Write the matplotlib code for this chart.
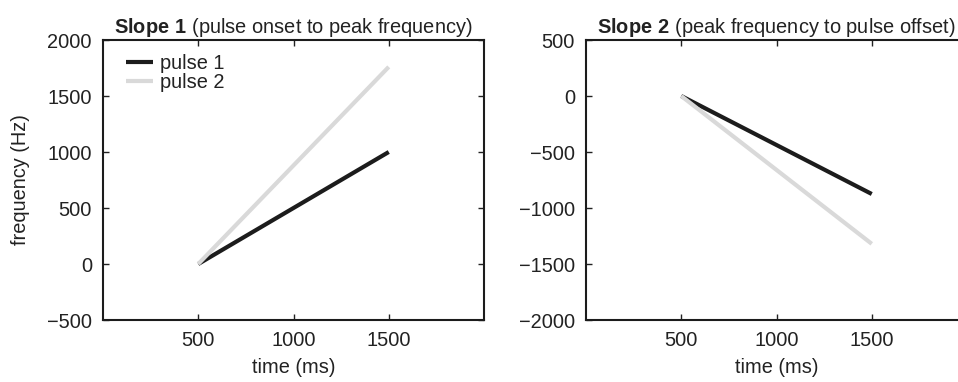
import matplotlib
matplotlib.use("Agg")
import matplotlib.pyplot as plt

plt.rcParams['font.family'] = ['Liberation Sans', 'DejaVu Sans']
plt.rcParams['mathtext.fontset'] = 'custom'
plt.rcParams['mathtext.rm'] = 'Liberation Sans'
plt.rcParams['mathtext.bf'] = 'Liberation Sans:bold'
plt.rcParams['axes.unicode_minus'] = True

# data
time = [500, 1500]
slope1_pulse1 = [0, 1000]
slope1_pulse2 = [0, 1760]
slope2_pulse1 = [0, -875]
slope2_pulse2 = [0, -1320]
xticks = [500, 1000, 1500]
yticks1 = [-500, 0, 500, 1000, 1500, 2000]
yticks2 = [-2000, -1500, -1000, -500, 0, 500]

dark = '#1c1c1c'
light = '#d9d9d9'
txt = '#222222'
fs = 14.4

fig = plt.figure(figsize=(9.58, 3.82), dpi=100)
ax1 = fig.add_axes([103/958, 62/382, 381/958, 280/382])
ax2 = fig.add_axes([586/958, 62/382, 381/958, 280/382])

ax1.plot(time, slope1_pulse1, color=dark, lw=3, label='pulse 1', solid_capstyle='butt')
ax1.plot(time, slope1_pulse2, color=light, lw=3, label='pulse 2', solid_capstyle='butt')
ax2.plot(time, slope2_pulse1, color=dark, lw=3, solid_capstyle='butt')
ax2.plot(time, slope2_pulse2, color=light, lw=3, solid_capstyle='butt')

for ax, yt in [(ax1, yticks1), (ax2, yticks2)]:
    ax.set_xlim(0, 2000)
    ax.set_ylim(yt[0], yt[-1])
    ax.set_xticks(xticks)
    ax.set_yticks(yt)
    ax.tick_params(direction='in', length=4, width=1, top=True, right=True,
                   labelsize=fs, colors=txt, pad=8)
    for s in ax.spines.values():
        s.set_linewidth(1.5)
        s.set_color(dark)
    ax.set_xlabel('time (ms)', fontsize=fs, color=txt, labelpad=6)

ax1.set_ylabel('frequency (Hz)', fontsize=fs, color=txt, labelpad=12)
ax1.set_title(r'$\bf{Slope\ 1}$ (pulse onset to peak frequency)', fontsize=fs, color=txt, pad=5)
ax2.set_title(r'$\bf{Slope\ 2}$ (peak frequency to pulse offset)', fontsize=fs, color=txt, pad=5)

leg = ax1.legend(loc='upper left', bbox_to_anchor=(0.06, 0.95), frameon=False,
                 fontsize=fs, handlelength=1.35, handletextpad=0.35,
                 labelspacing=0.02, borderaxespad=0, borderpad=0)
for t in leg.get_texts():
    t.set_color(txt)

fig.savefig('out.png', dpi=100)
